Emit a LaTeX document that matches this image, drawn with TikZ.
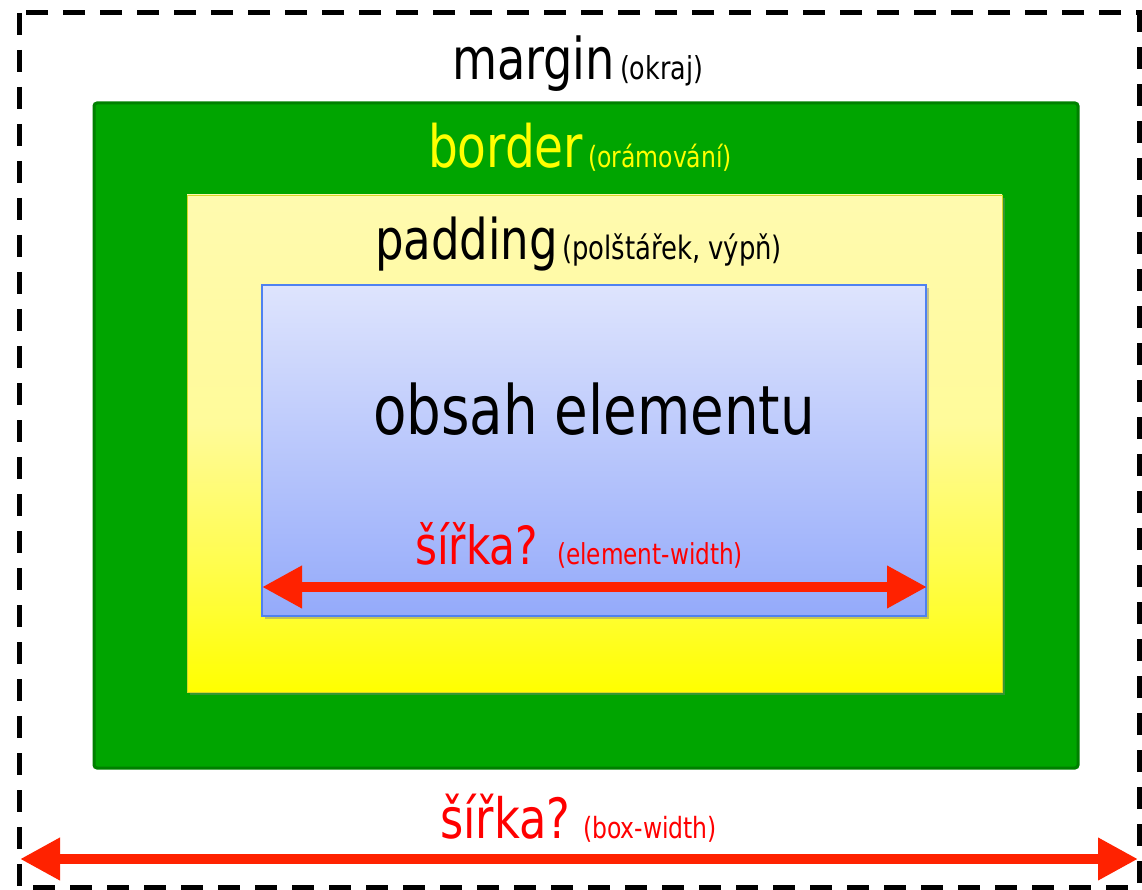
\documentclass[tikz,border=0pt]{standalone}
\usepackage{fontspec}
\setmainfont{DejaVu Sans Condensed}
\usetikzlibrary{arrows.meta,shadows}
\definecolor{greenfill}{RGB}{0,165,0}
\definecolor{greenline}{RGB}{0,128,0}
\definecolor{yelTop}{RGB}{255,250,175}
\definecolor{yelBot}{RGB}{255,255,0}
\definecolor{yelLine}{RGB}{215,215,40}
\definecolor{bluTop}{RGB}{222,228,253}
\definecolor{bluBot}{RGB}{148,170,250}
\definecolor{bluLine}{RGB}{79,129,240}
\definecolor{arrowred}{RGB}{255,34,0}
\definecolor{txtred}{RGB}{255,0,0}
\definecolor{txtyel}{RGB}{255,255,0}
\pgfdeclareverticalshading{yelshade}{100bp}{color(0bp)=(yelBot); color(25bp)=(yelBot); color(38bp)=(yelBot!55!yelTop); color(52bp)=(yelBot!12!yelTop); color(75bp)=(yelTop); color(100bp)=(yelTop)}
\tikzset{
  marginbox/.style={draw=black, line width=5pt, dash pattern=on 22pt off 15pt},
  borderbox/.style={draw=greenline, fill=greenfill, line width=3pt, rounded corners=3pt, inner sep=0pt},
  paddingbox/.style={draw=yelLine, line width=0.8pt, shading=yelshade, inner sep=0pt,
     drop shadow={opacity=0.4, shadow xshift=3pt, shadow yshift=-3pt}},
  contentbox/.style={draw=bluLine, line width=2pt, top color=bluTop, bottom color=bluBot, inner sep=0pt,
     drop shadow={opacity=0.45, shadow xshift=3pt, shadow yshift=-3pt}},
  lbl/.style={anchor=base west, inner sep=0pt, outer sep=0pt},
  widtharrow/.style={draw=arrowred, line width=10pt,
     {Triangle[length=40pt,width=40pt]}-{Triangle[length=40pt,width=40pt]}}
}
\newcommand{\fitw}[2]{\scalebox{1}[1.12]{\resizebox{#1}{!}{#2}}}
\begin{document}
\begin{tikzpicture}[x=1pt,y=-1pt]
\useasboundingbox (0,0) rectangle (1142,890);
\fill[white] (0,0) rectangle (1142,890);
% margin
\draw[marginbox] (19,13) rectangle (1139,887);
% boxes
\node[borderbox, minimum width=984pt, minimum height=665pt] (border) at (586,435.5) {};
\node[paddingbox, minimum width=815pt, minimum height=497pt] (padding) at (594.5,443.5) {};
\node[contentbox, minimum width=664pt, minimum height=331pt] (content) at (594,450.5) {};
% labels
\node[lbl] (marginlbl) at (452,80) {\fitw{163pt}{margin}\hspace{5pt}\fitw{83pt}{(okraj)}};
\node[lbl, text=txtyel] (borderlbl) at (428,168) {\fitw{155pt}{border}\hspace{5pt}\fitw{144pt}{(orámování)}};
\node[lbl] (paddinglbl) at (375,260) {\fitw{183pt}{padding}\hspace{4pt}\fitw{220pt}{(polštářek, výpň)}};
\node[lbl] (contentlbl) at (373,434) {\fitw{442pt}{obsah elementu}};
\node[lbl, text=txtred] (ewlbl) at (415,564) {\fitw{123pt}{šířka?}\hspace{19pt}\fitw{186pt}{(element-width)}};
\node[lbl, text=txtred] (bwlbl) at (440,838) {\fitw{130pt}{šířka?}\hspace{13pt}\fitw{134pt}{(box-width)}};
% arrows
\coordinate (ewL) at (262,587);
\coordinate (ewR) at (927,587);
\coordinate (bwL) at (20,859);
\coordinate (bwR) at (1138,859);
\draw[widtharrow] (ewL) -- (ewR);
\draw[widtharrow] (bwL) -- (bwR);
\end{tikzpicture}
\end{document}
